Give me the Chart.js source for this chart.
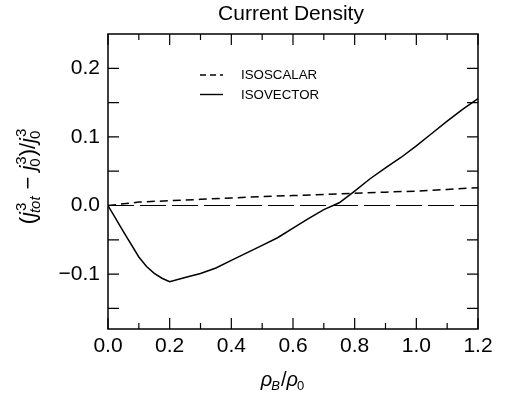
<!DOCTYPE html>
<html>
<head>
<meta charset="utf-8">
<script src="https://cdn.jsdelivr.net/npm/chart.js@4.4.0/dist/chart.umd.min.js"></script>
<style>
html, body { margin: 0; padding: 0; background: #fff; }
</style>
</head>
<body>
<canvas id="current_density" width="508" height="398"></canvas>
<script>
// rho_B / rho_0
var density = [0, 0.05, 0.1, 0.125, 0.15, 0.175, 0.2, 0.25, 0.3, 0.35, 0.4, 0.45, 0.5, 0.55, 0.6,
	0.65, 0.7, 0.75, 0.8, 0.85, 0.9, 0.95, 1.0, 1.05, 1.1, 1.15, 1.2];
var isovector = [0, -0.038, -0.075, -0.089, -0.099, -0.106, -0.111, -0.105, -0.099, -0.091, -0.080, -0.069, -0.058, -0.047, -0.033,
	-0.019, -0.006, 0.004, 0.021, 0.039, 0.055, 0.070, 0.087, 0.105, 0.123, 0.140, 0.156];

var scalarDensity = [0, 0.1, 0.2, 0.3, 0.4, 0.5, 0.6, 0.7, 0.8, 0.9, 1.0, 1.1, 1.2];
var isoscalar = [0, 0.005, 0.007, 0.009, 0.011, 0.013, 0.0145, 0.016, 0.018, 0.0195, 0.021, 0.0235, 0.026];

var zeroDensity = [0, 1.2];
var zeroLine = [0, 0];

var xTicks = [0, 0.2, 0.4, 0.6, 0.8, 1.0, 1.2];
var yTicks = [-0.1, 0.0, 0.1, 0.2];

var FONT = '"Liberation Sans", Arial, Helvetica, sans-serif';

function pts(xs, ys) {
	return xs.map(function(x, i) { return { x: x, y: ys[i] }; });
}

// draws a run of text pieces with sub/superscripts, centred on (0,0)
function richText(ctx, parts, main, small) {
	var w = 0;
	parts.forEach(function(p) {
		ctx.font = (p.it ? 'italic ' : '') + main + 'px ' + FONT;
		p.w = p.t ? ctx.measureText(p.t).width : 0;
		ctx.font = (p.sit ? 'italic ' : '') + small + 'px ' + FONT;
		var sw = Math.max(p.sup ? ctx.measureText(p.sup).width : 0, p.sub ? ctx.measureText(p.sub).width : 0);
		p.sw = sw;
		w += p.w + sw + (p.gap || 0);
	});
	var x = -w / 2;
	parts.forEach(function(p) {
		if (p.t) {
			ctx.font = (p.it ? 'italic ' : '') + main + 'px ' + FONT;
			ctx.fillText(p.t, x, 0);
		}
		x += p.w;
		ctx.font = (p.sit ? 'italic ' : '') + small + 'px ' + FONT;
		if (p.sup) ctx.fillText(p.sup, x + 1, -main * 0.42);
		ctx.font = (p.subit ? 'italic ' : '') + small + 'px ' + FONT;
		if (p.sub) ctx.fillText(p.sub, x + (p.it ? -1 : 0), main * 0.22);
		x += p.sw + (p.gap || 0);
	});
}

var framePlugin = {
	id: 'frame',
	afterDraw: function(chart) {
		var ctx = chart.ctx, a = chart.chartArea;
		var xs = chart.scales.x, ys = chart.scales.y;
		ctx.save();
		ctx.strokeStyle = '#000';
		ctx.lineWidth = 1.2;
		ctx.beginPath();
		for (var i = 0; i <= 12; i++) {
			var px = xs.getPixelForValue(i / 10);
			var len = i % 2 === 0 ? 11 : 6;
			ctx.moveTo(px, a.bottom); ctx.lineTo(px, a.bottom - len);
			ctx.moveTo(px, a.top); ctx.lineTo(px, a.top + len);
		}
		for (var k = -3; k <= 4; k++) {
			var py = ys.getPixelForValue(k * 0.05);
			ctx.moveTo(a.left, py); ctx.lineTo(a.left + 11, py);
			ctx.moveTo(a.right, py); ctx.lineTo(a.right - 11, py);
		}
		ctx.stroke();
		ctx.lineWidth = 1.5;
		ctx.strokeRect(a.left, a.top, a.right - a.left, a.bottom - a.top);

		// title
		ctx.fillStyle = '#000';
		ctx.textAlign = 'center';
		ctx.textBaseline = 'alphabetic';
		ctx.font = '21px ' + FONT;
		ctx.fillText('Current Density', 291, 20);

		// legend
		var ds = chart.data.datasets;
		ctx.lineWidth = 1.4;
		ctx.setLineDash([6, 4]);
		ctx.beginPath(); ctx.moveTo(200, 75); ctx.lineTo(223, 75); ctx.stroke();
		ctx.setLineDash([]);
		ctx.beginPath(); ctx.moveTo(200, 94.5); ctx.lineTo(223, 94.5); ctx.stroke();
		ctx.textAlign = 'left';
		ctx.textBaseline = 'middle';
		ctx.font = '13.3px ' + FONT;
		ctx.fillText(ds[1].label, 241, 75);
		ctx.fillText(ds[0].label, 241, 95);

		// axis titles
		ctx.textAlign = 'left';
		ctx.textBaseline = 'alphabetic';
		ctx.save();
		ctx.translate(283, 386);
		richText(ctx, [
			{ t: '\u03c1', it: true, sub: 'B', subit: true },
			{ t: '/' },
			{ t: '\u03c1', it: true, sub: '0' }
		], 20, 13);
		ctx.restore();

		ctx.save();
		ctx.translate(35, 177);
		ctx.rotate(-Math.PI / 2);
		richText(ctx, [
			{ t: '(' },
			{ t: 'j', it: true, sup: '3', sub: 'tot', subit: true, gap: 6 },
			{ t: '\u2212', gap: 6 },
			{ t: 'j', it: true, sup: '3', sub: '0', gap: 1 },
			{ t: ')/' },
			{ t: 'j', it: true, sup: '3', sub: '0' }
		], 22, 15);
		ctx.restore();
		ctx.restore();
	}
};

var config = {
	type    : 'line',
	data    : {
		datasets : [
			{
				label       : 'ISOVECTOR',
				data        : pts(density, isovector),
				borderColor : '#000',
				borderWidth : 1.5,
				pointRadius : 0,
				tension     : 0,
				fill        : false
			},
			{
				label       : 'ISOSCALAR',
				data        : pts(scalarDensity, isoscalar),
				borderColor : '#000',
				borderWidth : 1.5,
				borderDash  : [8, 5],
				pointRadius : 0,
				tension     : 0,
				fill        : false
			},
			{
				label       : 'zero',
				data        : pts(zeroDensity, zeroLine),
				borderColor : '#000',
				borderWidth : 1.2,
				borderDash  : [26, 6],
				pointRadius : 0,
				fill        : false
			}
		]
	},
	options : {
		responsive       : false,
		animation        : false,
		devicePixelRatio : 1,
		layout           : { padding: { top: 34, right: 30, left: 0, bottom: 0 } },
		plugins          : {
			legend  : { display: false },
			title   : { display: false },
			tooltip : { enabled: false }
		},
		scales : {
			x : {
				type            : 'linear',
				min             : 0,
				max             : 1.2,
				grid            : { display: false, drawTicks: false },
				border          : { display: false },
				afterFit        : function(s) { s.height = 69; },
				afterBuildTicks : function(s) { s.ticks = xTicks.map(function(v) { return { value: v }; }); },
				ticks           : {
					color    : '#000',
					padding  : 5,
					maxRotation : 0,
					font     : { family: FONT, size: 21 },
					callback : function(v) { return v.toFixed(1); }
				}
			},
			y : {
				type            : 'linear',
				min             : -0.18,
				max             : 0.25,
				grid            : { display: false, drawTicks: false },
				border          : { display: false },
				afterFit        : function(s) { s.width = 108; },
				afterBuildTicks : function(s) { s.ticks = yTicks.map(function(v) { return { value: v }; }); },
				ticks           : {
					color    : '#000',
					padding  : 8,
					font     : { family: FONT, size: 21 },
					callback : function(v) { return (v < 0 ? '\u2212' : '') + Math.abs(v).toFixed(1); }
				}
			}
		}
	},
	plugins : [framePlugin]
};

window.onload = function() {
	var ctx = document.getElementById('current_density').getContext('2d');
	window.myLine = new Chart(ctx, config);
};
</script>
</body>
</html>
